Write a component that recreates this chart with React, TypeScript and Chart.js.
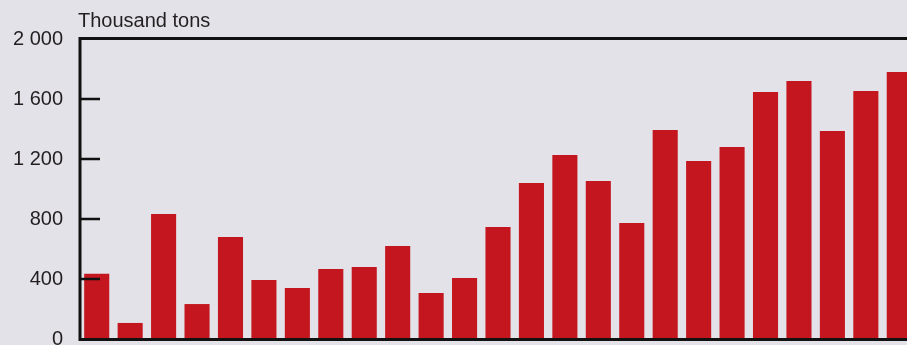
import { useEffect, useRef } from 'react';
import { Chart, registerables } from 'chart.js';

Chart.register(...registerables);

const categories = [
  '1994', '1995', '1996', '1997', '1998', '1999', '2000', '2001', '2002',
  '2003', '2004', '2005', '2006', '2007', '2008', '2009', '2010', '2011',
  '2012', '2013', '2014', '2015', '2016', '2017', '2018',
];
const values = [
  435, 107, 833, 233, 680, 393, 340, 467, 480, 620, 307, 407, 747, 1040,
  1227, 1053, 773, 1393, 1187, 1280, 1647, 1720, 1387, 1653, 1780,
];
const yMin = 0;
const yMax = 2000;
const yStep = 400;
const innerTicks = [400, 800, 1200, 1600];
const unitLabel = 'Thousand tons';

const BG = '#e3e2e8';
const BAR = '#c4161e';
const INK = '#231f20';
const FONT = '"Liberation Sans", Arial, Helvetica, sans-serif';

const fmt = (v: number) =>
  v >= 1000 ? `${Math.floor(v / 1000)} ${String(v % 1000).padStart(3, '0')}` : String(v);

const framePlugin = {
  id: 'frame',
  afterDatasetsDraw(chart: any) {
    const { ctx, chartArea, scales } = chart;
    const { left, right, top, bottom } = chartArea;
    const y = scales.y;
    ctx.save();
    ctx.strokeStyle = '#111';
    ctx.lineWidth = 3;
    ctx.beginPath();
    ctx.moveTo(left - 1.5, top - 0.5);
    ctx.lineTo(right, top - 0.5);
    ctx.moveTo(left, top - 2);
    ctx.lineTo(left, bottom + 2);
    ctx.moveTo(left - 1.5, bottom + 0.5);
    ctx.lineTo(right, bottom + 0.5);
    ctx.stroke();
    ctx.lineWidth = 2.5;
    ctx.beginPath();
    for (const t of innerTicks) {
      const py = y.getPixelForValue(t);
      ctx.moveTo(left, py);
      ctx.lineTo(left + 20, py);
    }
    ctx.stroke();
    ctx.fillStyle = INK;
    ctx.font = `20px ${FONT}`;
    ctx.textBaseline = 'alphabetic';
    ctx.textAlign = 'left';
    ctx.fillText(unitLabel, left - 2, 27);
    ctx.restore();
  },
};

export default function App() {
  const ref = useRef<HTMLCanvasElement>(null);
  useEffect(() => {
    document.body.style.margin = '0';
    document.body.style.background = BG;
    const chart = new Chart(ref.current!, {
      type: 'bar',
      data: {
        labels: categories,
        datasets: [
          {
            data: values,
            backgroundColor: BAR,
            borderWidth: 0,
            categoryPercentage: 1,
            barPercentage: 0.75,
          },
        ],
      },
      options: {
        responsive: false,
        animation: false,
        devicePixelRatio: 1,
        layout: { padding: { top: 39, bottom: 40, left: 0, right: 0 } },
        plugins: { legend: { display: false }, tooltip: { enabled: false } },
        scales: {
          x: { display: false },
          y: {
            min: yMin,
            max: yMax,
            afterFit: (s: any) => {
              s.width = 80;
            },
            ticks: {
              stepSize: yStep,
              padding: 17,
              color: INK,
              font: { size: 20, family: FONT },
              callback: (v: any) => fmt(Number(v)),
            },
            grid: { display: false, drawTicks: false },
            border: { display: false },
          },
        },
      },
      plugins: [framePlugin],
    });
    return () => chart.destroy();
  }, []);
  return (
    <div style={{ width: 907, height: 345, overflow: 'hidden', background: BG, position: 'relative' }}>
      <canvas ref={ref} width={916} height={379} style={{ display: 'block' }} />
    </div>
  );
}
